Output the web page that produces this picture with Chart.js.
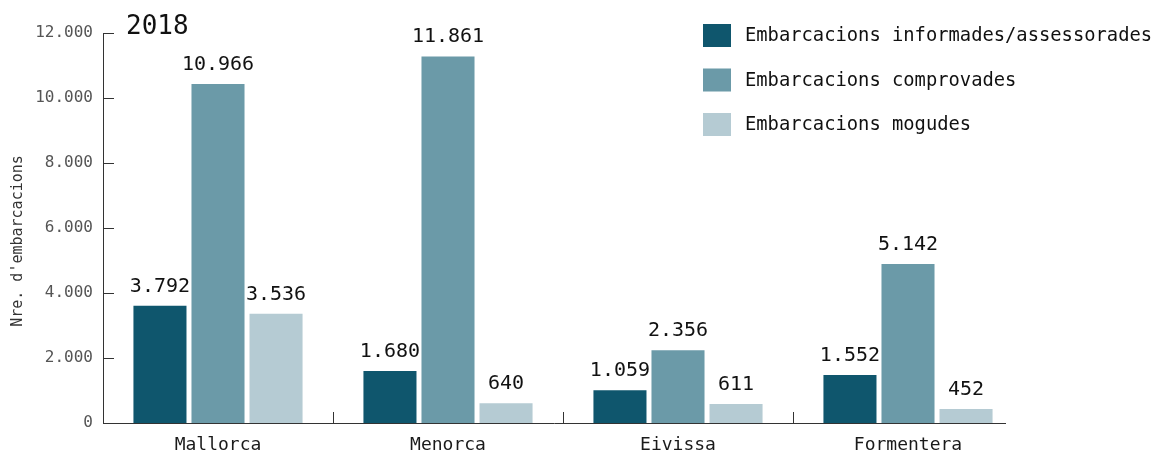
<!DOCTYPE html>
<html>
<head>
<meta charset="utf-8">
<script src="https://cdn.jsdelivr.net/npm/chart.js@4/dist/chart.umd.min.js"></script>
<style>
  html, body { margin: 0; padding: 0; background: #fff; }
  #wrap { width: 1157px; height: 454px; position: relative; }
</style>
</head>
<body>
<div id="wrap"><canvas id="chart"></canvas></div>
<script>
// ==============================
// DADES
// ==============================
const illes = ['Mallorca', 'Menorca', 'Eivissa', 'Formentera'];
const informades = [3792, 1680, 1059, 1552];
const comprovades = [10966, 11861, 2356, 5142];
const mogudes = [3536, 640, 611, 452];
const yTicks = [0, 2000, 4000, 6000, 8000, 10000, 12000];
const any = '2018';
const yTitol = "Nre. d'embarcacions";

const FONT = "'DejaVu Sans Mono', 'Liberation Mono', monospace";
const colors = ['#0f566d', '#6b9aa8', '#b5cbd3'];

function fmt(v) {
    return String(v).replace(/\B(?=(\d{3})+(?!\d))/g, '.');
}

// ==============================
// PLUGIN: eixos, etiquetes, llegenda
// ==============================
const decor = {
    id: 'decor',
    afterDraw(chart) {
        const ctx = chart.ctx;
        const area = chart.chartArea;
        const y = chart.scales.y;
        const x = chart.scales.x;

        ctx.save();
        ctx.strokeStyle = '#333';
        ctx.lineWidth = 1;

        // eix y
        ctx.beginPath();
        ctx.moveTo(area.left + 0.5, area.top);
        ctx.lineTo(area.left + 0.5, area.bottom);
        ctx.stroke();

        // eix x
        ctx.beginPath();
        ctx.moveTo(area.left, area.bottom + 0.5);
        ctx.lineTo(area.right - 17, area.bottom + 0.5);
        ctx.stroke();

        // marques interiors eix y
        yTicks.forEach(v => {
            const py = Math.round(y.getPixelForValue(v)) + 0.5;
            ctx.beginPath();
            ctx.moveTo(area.left, py);
            ctx.lineTo(area.left + 11, py);
            ctx.stroke();
        });

        // separadors de categoria
        for (let i = 0; i < illes.length - 1; i++) {
            const px = Math.round((x.getPixelForValue(i) + x.getPixelForValue(i + 1)) / 2) + 0.5;
            ctx.beginPath();
            ctx.moveTo(px, area.bottom);
            ctx.lineTo(px, area.bottom - 11);
            ctx.stroke();
        }

        // títol eix y
        ctx.save();
        ctx.translate(18, 241);
        ctx.rotate(-Math.PI / 2);
        ctx.fillStyle = '#333';
        ctx.font = '15px ' + FONT;
        ctx.textAlign = 'center';
        ctx.textBaseline = 'middle';
        ctx.fillText(yTitol, 0, 0);
        ctx.restore();

        // valors damunt les barres
        ctx.fillStyle = '#111';
        ctx.font = '20px ' + FONT;
        ctx.textAlign = 'center';
        ctx.textBaseline = 'alphabetic';
        chart.data.datasets.forEach((ds, di) => {
            chart.getDatasetMeta(di).data.forEach((bar, i) => {
                ctx.fillText(fmt(ds.data[i]), bar.x, bar.y - 14);
            });
        });

        // títol any
        ctx.textAlign = 'left';
        ctx.font = '26px ' + FONT;
        ctx.fillText(any, area.left + 23, 34);

        // llegenda
        ctx.font = '18.8px ' + FONT;
        ctx.textBaseline = 'middle';
        chart.data.datasets.forEach((ds, di) => {
            const cy = 35.5 + di * 44.5;
            ctx.fillStyle = ds.backgroundColor;
            ctx.fillRect(703, cy - 11.5, 28, 23);
            ctx.fillStyle = '#111';
            ctx.fillText(ds.label, 745, cy + 1);
        });

        ctx.restore();
    }
};

new Chart(document.getElementById('chart'), {
    type: 'bar',
    data: {
        labels: illes,
        datasets: [
            { label: 'Embarcacions informades/assessorades', data: informades, backgroundColor: colors[0], yAxisID: 'yb' },
            { label: 'Embarcacions comprovades', data: comprovades, backgroundColor: colors[1], yAxisID: 'yb' },
            { label: 'Embarcacions mogudes', data: mogudes, backgroundColor: colors[2], yAxisID: 'yb' }
        ]
    },
    options: {
        responsive: true,
        maintainAspectRatio: false,
        animation: false,
        datasets: {
            bar: { categoryPercentage: 0.757, barPercentage: 0.914 }
        },
        layout: { padding: { left: 9, right: 134, top: 33, bottom: 0 } },
        plugins: {
            legend: { display: false },
            tooltip: { enabled: false }
        },
        scales: {
            x: {
                grid: { display: false, drawTicks: false },
                border: { display: false },
                afterFit: axis => { axis.height = 31; },
                ticks: {
                    font: { family: FONT, size: 18, lineHeight: 1 },
                    color: '#1a1a1a',
                    padding: 13,
                    maxRotation: 0
                }
            },
            y: {
                position: 'left',
                min: 0,
                max: 12000,
                grid: { display: false, drawTicks: false },
                border: { display: false },
                afterFit: axis => { axis.width = 94; },
                afterBuildTicks: axis => { axis.ticks = yTicks.map(v => ({ value: v })); },
                ticks: {
                    font: { family: FONT, size: 16 },
                    color: '#555',
                    padding: 10,
                    callback: v => fmt(v)
                }
            },
            yb: {
                display: false,
                min: 0,
                max: 12620
            }
        }
    },
    plugins: [decor]
});
</script>
</body>
</html>
